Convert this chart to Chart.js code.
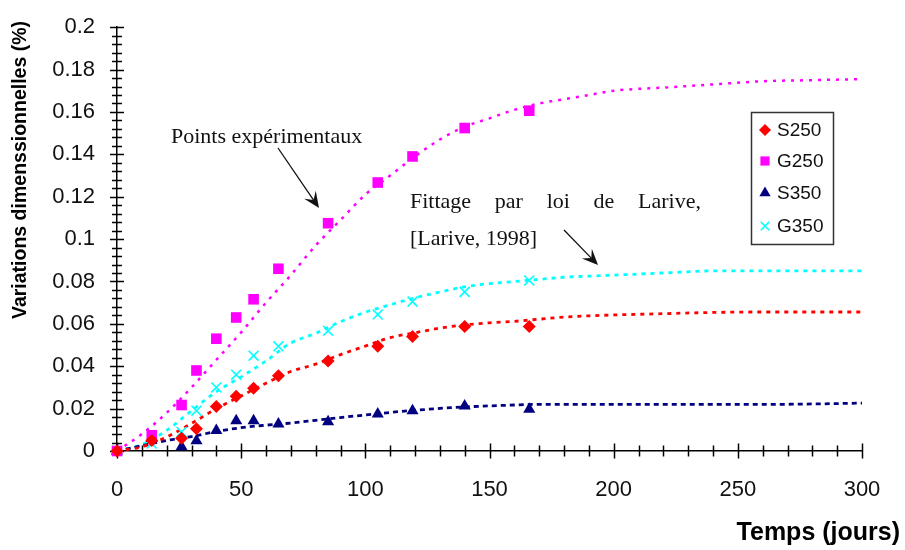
<!DOCTYPE html>
<html>
<head>
<meta charset="utf-8">
<script src="https://cdn.jsdelivr.net/npm/chart.js@4/dist/chart.umd.min.js"></script>
<style>
  body { margin: 0; background: #fff; }
  #wrap { width: 905px; height: 550px; }
</style>
</head>
<body>
<div id="wrap"><canvas id="chart" width="905" height="550"></canvas></div>
<script>
// measured days and values (%)
const days = [0, 14, 26, 32, 40, 48, 55, 65, 85, 105, 119, 140, 166];
const S250 = [0, 0.005, 0.006, 0.0105, 0.021, 0.0258, 0.0296, 0.0355, 0.0425, 0.0494, 0.054, 0.0587, 0.0587];
const G250 = [0, 0.0074, 0.0217, 0.038, 0.053, 0.063, 0.0716, 0.086, 0.1075, 0.1267, 0.139, 0.1524, 0.1606];
const S350 = [0, 0.0059, 0.002, 0.0048, 0.0097, 0.0143, 0.0143, 0.0128, 0.0138, 0.0175, 0.019, 0.0212, 0.0197];
const G350 = [0, 0.0035, 0.009, 0.019, 0.030, 0.036, 0.045, 0.0494, 0.0567, 0.0644, 0.0705, 0.0751, 0.0805];

// Larive fit curves
const fitDays = [0, 10, 20, 30, 40, 50, 60, 70, 80, 90, 100, 110, 120, 130, 140, 150, 160, 170, 180, 190, 200, 220, 240, 260, 280, 300];
const fitS250 = [0, 0.002, 0.0066, 0.013, 0.020, 0.026, 0.032, 0.0375, 0.041, 0.0455, 0.0495, 0.0535, 0.0558, 0.058, 0.0595, 0.0605, 0.0612, 0.0622, 0.0632, 0.0638, 0.0642, 0.0648, 0.0654, 0.0656, 0.0656, 0.0656];
const fitG250 = [0, 0.008, 0.018, 0.030, 0.043, 0.056, 0.070, 0.083, 0.097, 0.109, 0.121, 0.130, 0.139, 0.147, 0.153, 0.157, 0.161, 0.164, 0.166, 0.168, 0.170, 0.1715, 0.173, 0.1745, 0.175, 0.1755];
const fitS350 = [0, 0.0025, 0.005, 0.0068, 0.0092, 0.011, 0.0122, 0.0132, 0.0145, 0.0158, 0.017, 0.0182, 0.0192, 0.0201, 0.0208, 0.0213, 0.0217, 0.022, 0.022, 0.022, 0.022, 0.022, 0.022, 0.022, 0.0222, 0.0226];
const fitG350 = [0, 0.003, 0.0097, 0.019, 0.028, 0.035, 0.0425, 0.051, 0.0555, 0.061, 0.0655, 0.069, 0.0723, 0.075, 0.0775, 0.079, 0.080, 0.081, 0.082, 0.0825, 0.083, 0.084, 0.085, 0.085, 0.085, 0.085];

const xTicks = [0, 50, 100, 150, 200, 250, 300];
const yTicks = [0, 0.02, 0.04, 0.06, 0.08, 0.1, 0.12, 0.14, 0.16, 0.18, 0.2];

const series = [
    { label: 'S250', values: S250, fit: fitS250, color: '#ff0000', style: 'rectRot', radius: 6.5, dash: [4, 5], width: 2.8 },
    { label: 'G250', values: G250, fit: fitG250, color: '#ff00ff', style: 'rect', radius: 7.5, dash: [3, 6], width: 2.5 },
    { label: 'S350', values: S350, fit: fitS350, color: '#000080', style: 'triangle', radius: 7, dash: [5, 4], width: 2.8 },
    { label: 'G350', values: G350, fit: fitG350, color: '#00ffff', style: 'crossRot', radius: 7, dash: [4, 5], width: 2.8 }
];

const SANS = '"Liberation Sans", Arial, sans-serif';
const SERIF = '"Liberation Serif", "Times New Roman", serif';

function toPoints(xs, ys) {
    return xs.map((x, i) => ({ x: x, y: ys[i] }));
}

const datasets = [];
series.forEach(s => {
    datasets.push({
        label: s.label,
        data: toPoints(days, s.values),
        pointStyle: s.style,
        pointRadius: s.radius,
        pointBackgroundColor: s.color,
        pointBorderColor: s.color,
        pointBorderWidth: s.style === 'crossRot' ? 1.6 : 0,
        showLine: false,
        clip: false,
        order: 0
    });
});
series.forEach(s => {
    datasets.push({
        label: s.label + ' fit',
        data: toPoints(fitDays, s.fit),
        showLine: true,
        pointRadius: 0,
        borderColor: s.color,
        borderWidth: s.width,
        borderDash: s.dash,
        cubicInterpolationMode: 'monotone',
        clip: false,
        order: 1
    });
});

function drawArrow(ctx, x1, y1, x2, y2) {
    const a = Math.atan2(y2 - y1, x2 - x1);
    const len = 16, half = 7;
    ctx.beginPath();
    ctx.moveTo(x1, y1);
    ctx.lineTo(x2 - Math.cos(a) * len * 0.6, y2 - Math.sin(a) * len * 0.6);
    ctx.stroke();
    ctx.beginPath();
    ctx.moveTo(x2, y2);
    ctx.lineTo(x2 - Math.cos(a) * len - Math.sin(a) * half, y2 - Math.sin(a) * len + Math.cos(a) * half);
    ctx.lineTo(x2 - Math.cos(a) * len * 0.6, y2 - Math.sin(a) * len * 0.6);
    ctx.lineTo(x2 - Math.cos(a) * len + Math.sin(a) * half, y2 - Math.sin(a) * len - Math.cos(a) * half);
    ctx.closePath();
    ctx.fill();
}

function drawJustified(ctx, words, x0, x1, y) {
    const widths = words.map(w => ctx.measureText(w).width);
    const total = widths.reduce((a, b) => a + b, 0);
    const gap = (x1 - x0 - total) / (words.length - 1);
    let x = x0;
    words.forEach((w, i) => {
        ctx.fillText(w, x, y);
        x += widths[i] + gap;
    });
}

// ticks that cross the axis lines, major and minor
const crossTicks = {
    id: 'crossTicks',
    beforeDatasetsDraw(chart) {
        const ctx = chart.ctx;
        const xs = chart.scales.x, ys = chart.scales.y;
        ctx.save();
        ctx.strokeStyle = '#000';
        ctx.lineWidth = 1.5;
        for (let v = 0; v <= 300; v += 10) {
            const px = Math.round(xs.getPixelForValue(v)) + 0.5;
            const h = v % 50 === 0 ? 7.5 : 5.5;
            ctx.beginPath();
            ctx.moveTo(px, ys.bottom - h);
            ctx.lineTo(px, ys.bottom + h);
            ctx.stroke();
        }
        for (let i = 0; i <= 50; i++) {
            const py = Math.round(ys.getPixelForValue(i * 0.004)) + 0.5;
            const w = i % 5 === 0 ? 7 : 5;
            ctx.beginPath();
            ctx.moveTo(xs.left - w, py);
            ctx.lineTo(xs.left + w, py);
            ctx.stroke();
        }
        ctx.restore();
    }
};

const overlay = {
    id: 'overlay',
    afterDraw(chart) {
        const ctx = chart.ctx;
        ctx.save();

        // axis titles
        ctx.fillStyle = '#000';
        ctx.font = `bold 19.5px ${SANS}`;
        ctx.textAlign = 'center';
        ctx.textBaseline = 'middle';
        ctx.save();
        ctx.translate(21, 170);
        ctx.rotate(-Math.PI / 2);
        ctx.fillText('Variations dimenssionnelles (%)', 0, 0);
        ctx.restore();

        ctx.font = `bold 25px ${SANS}`;
        ctx.textAlign = 'right';
        ctx.textBaseline = 'alphabetic';
        ctx.fillText('Temps (jours)', 900, 540);

        // annotations
        ctx.fillStyle = '#111';
        ctx.font = `22px ${SERIF}`;
        ctx.textAlign = 'left';
        ctx.fillText('Points expérimentaux', 171, 143);
        drawJustified(ctx, ['Fittage', 'par', 'loi', 'de', 'Larive,'], 410, 701, 208);
        ctx.fillText('[Larive, 1998]', 410, 245);

        ctx.strokeStyle = '#111';
        ctx.fillStyle = '#111';
        ctx.lineWidth = 1.3;
        drawArrow(ctx, 278, 148, 319, 208);
        drawArrow(ctx, 564, 230, 598, 265);

        // legend box
        ctx.strokeStyle = '#333';
        ctx.lineWidth = 1.5;
        ctx.strokeRect(751.5, 112.5, 82, 132);
        const rows = [130, 161, 193, 226];
        series.forEach((s, i) => {
            ctx.fillStyle = s.color;
            ctx.strokeStyle = s.color;
            ctx.lineWidth = 1.6;
            const r = s.style === 'rect' ? 6.5 : s.style === 'triangle' ? 6.5 : 6;
            Chart.helpers.drawPoint(ctx, { pointStyle: s.style, radius: r, rotation: 0, borderWidth: s.style === 'crossRot' ? 1.6 : 0 }, 765, rows[i]);
            ctx.fillStyle = '#111';
            ctx.font = `19px ${SANS}`;
            ctx.textAlign = 'left';
            ctx.textBaseline = 'middle';
            ctx.fillText(s.label, 777, rows[i] + 1);
        });
        ctx.restore();
    }
};

new Chart(document.getElementById('chart'), {
    type: 'scatter',
    data: { datasets: datasets },
    options: {
        responsive: false,
        animation: false,
        devicePixelRatio: 1,
        layout: { padding: { top: 18, right: 43, left: 0, bottom: 0 } },
        plugins: { legend: { display: false }, tooltip: { enabled: false } },
        scales: {
            x: {
                type: 'linear',
                min: 0,
                max: 300,
                afterFit: s => { s.height = 99; },
                afterBuildTicks: s => { s.ticks = xTicks.map(v => ({ value: v })); },
                grid: { display: false },
                border: { display: true, color: '#000', width: 1.5 },
                ticks: { color: '#111', padding: 18, font: { family: SANS, size: 22 } }
            },
            y: {
                type: 'linear',
                min: 0,
                max: 0.2,
                afterFit: s => { s.width = 117; },
                afterBuildTicks: s => { s.ticks = yTicks.map(v => ({ value: v })); },
                grid: { display: false },
                border: { display: true, color: '#000', width: 1.5 },
                ticks: {
                    color: '#111',
                    padding: 14,
                    font: { family: SANS, size: 22 },
                    callback: v => String(+v.toFixed(3))
                }
            }
        }
    },
    plugins: [crossTicks, overlay]
});
</script>
</body>
</html>
